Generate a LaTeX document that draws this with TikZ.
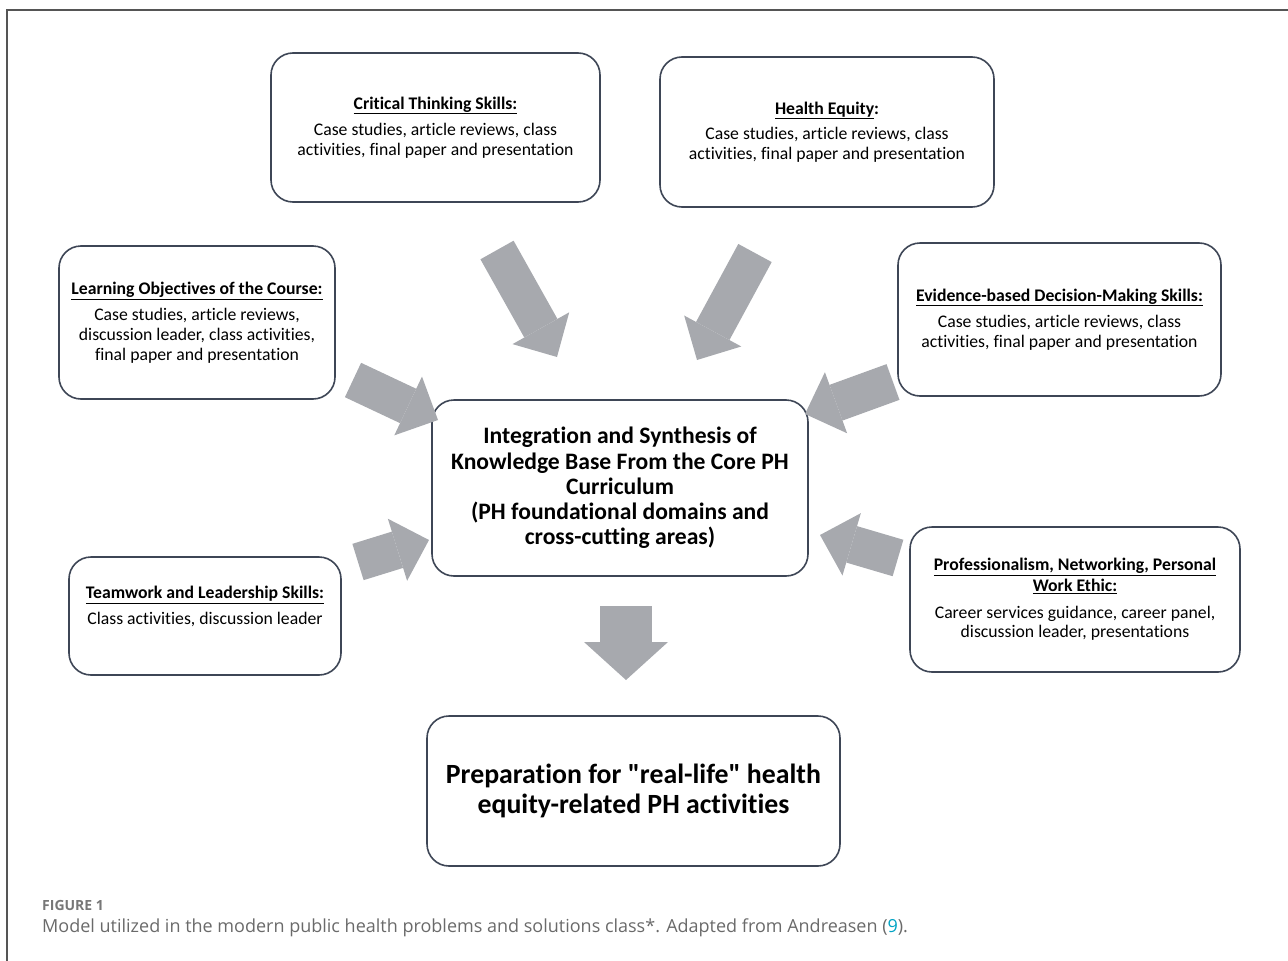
\documentclass[tikz,border=0pt]{standalone}
\usepackage{fontspec}
\setmainfont{Carlito}[Ligatures={TeXOff,CommonOff}]
\newfontfamily\capfont{Open Sans}
\usetikzlibrary{arrows.meta,calc}
\definecolor{boxline}{HTML}{3E4656}
\definecolor{arrowgray}{HTML}{A7A9AE}
\definecolor{captiongray}{HTML}{6A6A6A}
\definecolor{figgray}{HTML}{777777}
\definecolor{linkcyan}{HTML}{00A3C4}
\definecolor{framegray}{HTML}{555555}
\begin{document}
\begin{tikzpicture}[x=1pt,y=-1pt,
  box/.style={draw=boxline, line width=1.6pt, rounded corners=22pt, fill=white,
    align=center, inner sep=0pt, font=\fontsize{17.7}{19.6}\selectfont},
  fatarrow/.style={draw=arrowgray, line width=38pt,
    -{Triangle[length=33pt,width=65pt,line width=0pt]}},
  bigarrow/.style={draw=arrowgray, line width=52pt,
    -{Triangle[length=38pt,width=84pt,line width=0pt]}}
]
\useasboundingbox (0,0) rectangle (1288,961);
\draw[line width=1.6pt, draw=framegray] (7,961) -- (7,10) -- (1288,10);

% boxes
\node[box, minimum width=329pt, minimum height=149pt] (crit) at (435.5,127.5)
  {\textbf{\underline{Critical Thinking Skills:}}\\[7pt]
   Case studies, article reviews, class\\ activities, final paper and presentation};
\node[box, minimum width=334pt, minimum height=150pt] (heq) at (827,132)
  {\textbf{\underline{Health Equity}:}\\[6pt]
   Case studies, article reviews, class\\ activities, final paper and presentation};
\node[box, minimum width=276pt, minimum height=153pt] (learn) at (197,322.5)
  {\textbf{\underline{Learning Objectives of the Course:}}\\[7pt]
   Case studies, article reviews,\\ discussion leader, class activities,\\ final paper and presentation};
\node[box, minimum width=323pt, minimum height=153pt] (evid) at (1059.5,319.5)
  {\textbf{\underline{Evidence-based Decision-Making Skills:}}\\[7pt]
   Case studies, article reviews, class\\ activities, final paper and presentation};
\node[box, minimum width=376pt, minimum height=176pt,
  font=\fontsize{23.6}{25.2}\selectfont\bfseries] (core) at (620,488)
  {Integration and Synthesis of\\ Knowledge Base From the Core PH\\ Curriculum\\
   (PH foundational domains and\\ cross-cutting areas)};
\node[box, minimum width=272pt, minimum height=118pt] (team) at (205,616)
  {\textbf{\underline{Teamwork and Leadership Skills:}}\\[6pt]
   Class activities, discussion leader\\[2pt]};
\node[box, minimum width=330pt, minimum height=145pt] (prof) at (1075,599.5)
  {\textbf{\underline{Professionalism, Networking, Personal}}\\[1pt]
   \textbf{\underline{Work Ethic:}}\\[7pt]
   Career services guidance, career panel,\\ discussion leader, presentations};
\node[box, minimum width=413pt, minimum height=150pt,
  font=\fontsize{27.8}{30}\selectfont\bfseries] (prep) at (633.5,791)
  {Preparation for "real-life" health\\ equity-related PH activities};

% arrow end points
\coordinate (a1s) at (497,250); \coordinate (a1e) at (557,357);
\coordinate (a2s) at (755,253); \coordinate (a2e) at (697,360);
\coordinate (a3s) at (353,380); \coordinate (a3e) at (438,420);
\coordinate (a4s) at (893,382); \coordinate (a4e) at (805,414);
\coordinate (a5s) at (358,562); \coordinate (a5e) at (429,540);
\coordinate (a6s) at (898,558); \coordinate (a6e) at (820,535);
\coordinate (a7s) at (626,606); \coordinate (a7e) at (626,680);

\draw[fatarrow] (a1s) -- (a1e);
\draw[fatarrow] (a2s) -- (a2e);
\draw[fatarrow] (a3s) -- (a3e);
\draw[fatarrow] (a4s) -- (a4e);
\draw[fatarrow] (a5s) -- (a5e);
\draw[fatarrow] (a6s) -- (a6e);
\draw[bigarrow] (a7s) -- (a7e);

% caption
\node[anchor=base west, inner sep=0pt, text=figgray,
  font=\capfont\fontsize{14}{16}\selectfont\bfseries] (fig) at (42,910) {FIGURE 1};
\node[anchor=base west, inner sep=0pt, text=captiongray,
  font=\capfont\fontsize{18}{21}\selectfont] (cap) at (42,932)
  {Model utilized in the modern public health problems and solutions class*. Adapted from Andreasen (\textcolor{linkcyan}{9}).};
\end{tikzpicture}
\end{document}
